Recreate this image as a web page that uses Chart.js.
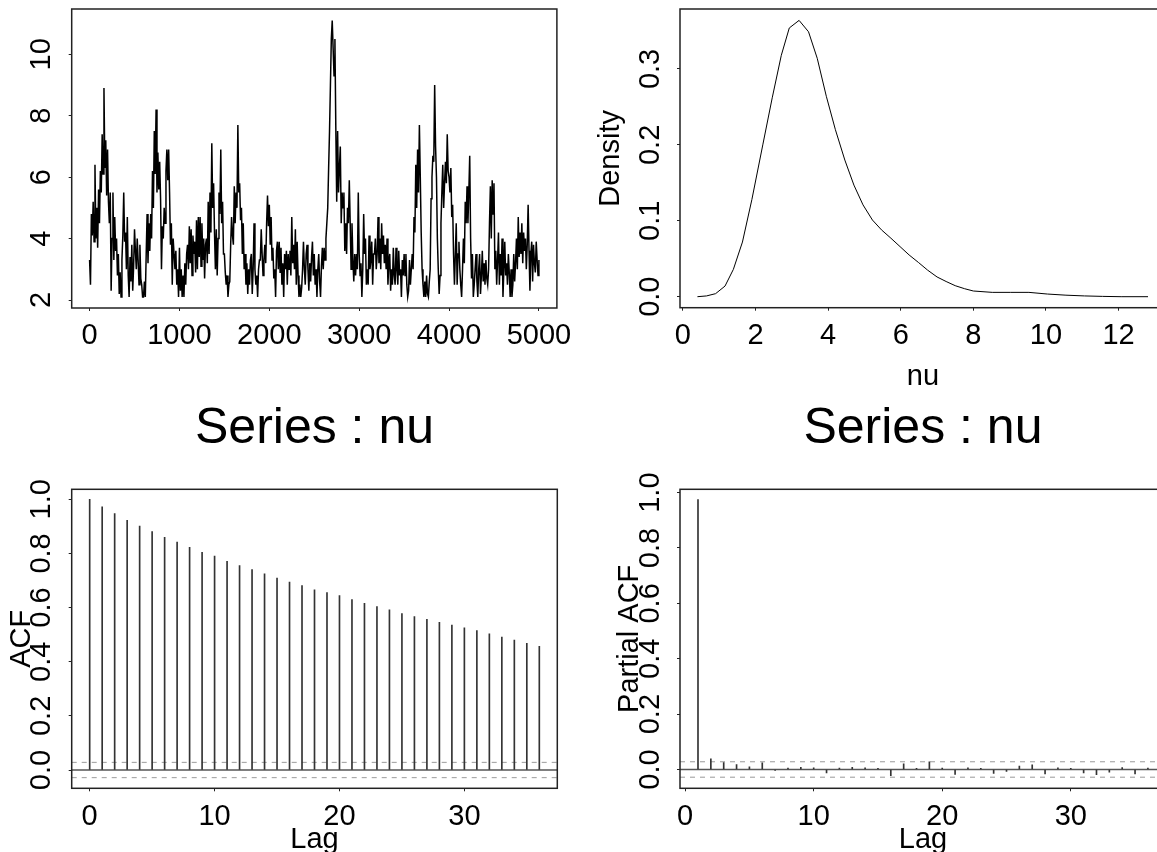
<!DOCTYPE html>
<html>
<head>
<meta charset="utf-8">
<title>nu diagnostics</title>
<script src="https://cdn.jsdelivr.net/npm/chart.js@4.4.1/dist/chart.umd.min.js"></script>
<style>
  html, body { margin: 0; padding: 0; background: #fff; overflow: hidden; }
  body { width: 1157px; height: 852px; position: relative; }
  canvas { position: absolute; }
</style>
</head>
<body>
<canvas id="trace" width="580" height="400" style="left:0;top:0"></canvas>
<canvas id="density" width="620" height="400" style="left:580px;top:0"></canvas>
<canvas id="acf" width="580" height="452" style="left:0;top:400px"></canvas>
<canvas id="pacf" width="620" height="452" style="left:580px;top:400px"></canvas>
<script>
// MCMC trace of nu, one value read every 10 iterations (one row = 100 iterations)
const traceStep = 10;
const nuTrace = [
    3.3, 2.5, 4.8, 4.1, 5.2, 3.9, 6.4, 4.0, 5.0, 3.7,
    5.6, 4.5, 6.2, 5.5, 7.4, 6.1, 8.9, 6.3, 7.2, 5.4,
    6.9, 5.2, 4.5, 5.5, 2.3, 4.0, 5.5, 3.3, 4.7, 3.6,
    4.0, 2.8, 3.5, 2.2, 2.9, 2.1, 3.3, 4.1, 5.5, 3.9,
    4.2, 3.0, 4.7, 2.8, 2.1, 3.4, 2.6, 3.8, 2.3, 3.1,
    4.3, 3.6, 3.0, 4.0, 3.3, 2.5, 3.8, 2.7, 2.5, 2.1,
    2.1, 2.6, 2.1, 3.5, 4.8, 3.2, 4.5, 3.6, 4.8, 4.0,
    6.2, 5.0, 7.5, 6.1, 8.2, 5.5, 6.8, 5.6, 6.5, 5.3,
    3.0, 4.4, 4.0, 5.0, 4.5, 6.2, 6.9, 5.9, 6.9, 5.5,
    3.8, 4.5, 2.5, 4.0, 3.5, 3.0, 3.6, 2.5, 3.0, 2.1,
    3.7, 2.3, 3.0, 2.1, 2.8, 2.1, 3.2, 2.5, 3.5, 3.8,
    3.0, 4.4, 3.2, 4.3, 2.8, 4.1, 3.5, 3.9, 2.9, 4.6,
    3.0, 4.7, 3.4, 4.7, 3.1, 4.5, 3.3, 4.0, 2.7, 3.8,
    4.0, 3.2, 5.2, 3.5, 5.5, 4.2, 7.1, 5.0, 5.8, 4.2,
    3.0, 4.3, 2.8, 4.0, 5.5, 4.8, 6.9, 4.5, 5.2, 3.5,
    3.5, 2.9, 2.5, 2.8, 2.1, 2.5, 2.6, 3.8, 4.7, 4.1,
    3.8, 5.7, 4.5, 5.5, 5.0, 7.7, 5.5, 5.8, 4.6, 5.0,
    3.5, 4.5, 3.0, 3.5, 2.5, 3.2, 2.2, 3.0, 2.5, 3.3,
    3.5, 2.2, 3.0, 4.5, 3.0, 2.5, 2.8, 2.1, 3.0, 3.3,
    3.3, 4.3, 3.5, 2.8, 3.3, 3.8, 3.2, 4.5, 5.4, 4.4,
    5.1, 3.8, 4.7, 3.3, 3.7, 2.7, 3.0, 2.1, 3.6, 3.9,
    3.0, 3.9, 2.9, 3.7, 2.5, 3.2, 2.1, 3.5, 3.0, 3.6,
    2.5, 3.5, 3.0, 3.6, 2.8, 4.7, 3.2, 3.8, 3.0, 4.3,
    2.5, 3.9, 2.8, 2.1, 2.5, 2.1, 2.4, 3.0, 3.9, 3.0,
    2.5, 3.5, 3.8, 3.0, 2.3, 3.2, 2.6, 3.4, 3.9, 2.8,
    3.5, 2.5, 3.0, 2.1, 3.0, 3.5, 2.6, 2.1, 3.1, 3.7,
    3.0, 3.7, 3.3, 4.0, 4.5, 5.0, 6.3, 7.5, 9.0, 10.5,
    11.1, 10.2, 9.3, 10.5, 7.6, 5.2, 7.5, 5.5, 6.3, 7.0,
    4.5, 5.5, 5.0, 5.5, 3.6, 4.5, 3.5, 5.0, 4.5, 5.9,
    4.5, 3.0, 4.5, 3.3, 2.6, 3.5, 2.8, 3.5, 3.0, 5.5,
    3.5, 2.8, 3.2, 2.1, 3.0, 4.8, 3.5, 4.0, 2.5, 3.0,
    2.5, 4.1, 3.0, 3.3, 3.9, 2.5, 3.5, 3.5, 4.0, 3.0,
    3.5, 4.7, 3.2, 4.0, 3.0, 4.5, 3.5, 4.1, 3.2, 3.8,
    3.0, 4.0, 2.5, 3.2, 3.5, 2.3, 3.0, 2.5, 3.7, 2.8,
    2.5, 3.7, 3.0, 2.5, 3.6, 2.8, 3.0, 2.1, 3.3, 2.8,
    3.5, 2.8, 3.5, 2.5, 2.1, 2.3, 3.3, 2.5, 3.0, 3.5,
    3.0, 4.7, 4.2, 6.4, 5.0, 6.9, 5.5, 7.7, 6.0, 4.2,
    3.0, 2.5, 2.1, 2.6, 2.1, 2.8, 2.2, 2.1, 2.6, 3.0,
    5.3, 6.0, 6.7, 6.5, 9.0, 7.0, 6.0, 4.0, 3.0, 2.2,
    2.8, 4.5, 5.5, 6.4, 5.0, 5.8, 6.5, 5.8, 7.4, 6.2,
    6.0, 5.5, 6.3, 4.7, 5.1, 3.5, 2.5, 3.5, 4.5, 2.5,
    3.5, 3.9, 3.0, 2.5, 2.1, 3.0, 4.0, 3.2, 5.2, 4.5,
    5.7, 4.5, 5.5, 6.7, 4.0, 2.7, 3.5, 2.1, 2.5, 3.0,
    3.5, 2.6, 2.1, 3.0, 3.5, 2.2, 2.8, 3.6, 2.6, 3.2,
    2.5, 3.3, 2.7, 2.5, 3.0, 4.5, 5.7, 4.0, 5.9, 4.8,
    5.8, 3.0, 3.6, 2.5, 3.3, 4.2, 2.5, 3.5, 2.8, 4.0,
    2.1, 3.0, 3.9, 2.8, 3.2, 2.5, 3.5, 2.9, 2.1, 3.0,
    2.1, 2.5, 3.5, 2.6, 3.2, 4.0, 3.0, 4.7, 3.4, 4.2,
    3.5, 4.5, 3.2, 4.2, 3.6, 4.0, 3.0, 3.8, 5.1, 3.6,
    2.3, 3.5, 3.9, 2.6, 3.8, 3.2, 2.9, 3.9, 3.3, 2.8,
    3.3
];
const traceXTicks = [0, 1000, 2000, 3000, 4000, 5000];
const traceYTicks = [2, 4, 6, 8, 10];

// kernel density of nu
const densityX = [0.40, 0.65, 0.90, 1.16, 1.39, 1.64, 1.90, 2.20, 2.46, 2.71, 2.93, 3.20, 3.46, 3.70,
    3.95, 4.20, 4.46, 4.71, 4.96, 5.22, 5.47, 5.73, 5.98, 6.23, 6.49, 6.74, 7.00, 7.25, 7.50, 7.76,
    8.00, 8.52, 9.03, 9.53, 10.04, 10.55, 11.06, 11.56, 12.07, 12.81];
const densityY = [0.000, 0.001, 0.004, 0.014, 0.036, 0.072, 0.128, 0.200, 0.262, 0.318, 0.354, 0.364, 0.349, 0.314,
    0.264, 0.220, 0.180, 0.147, 0.121, 0.101, 0.088, 0.077, 0.066, 0.055, 0.045, 0.035, 0.026, 0.020, 0.0145, 0.0105,
    0.0075, 0.0057, 0.0057, 0.0057, 0.0035, 0.002, 0.001, 0.0004, 0.0, 0.0];
const densityXTicks = [0, 2, 4, 6, 8, 10, 12];
const densityYTicks = [0, 0.1, 0.2, 0.3];
const densityYLabels = ['0.0', '0.1', '0.2', '0.3'];

// autocorrelations
const acfLags = [0, 1, 2, 3, 4, 5, 6, 7, 8, 9, 10, 11, 12, 13, 14, 15, 16, 17, 18,
    19, 20, 21, 22, 23, 24, 25, 26, 27, 28, 29, 30, 31, 32, 33, 34, 35, 36];
const acfValues = [1.000, 0.972, 0.947, 0.922, 0.901, 0.881, 0.860, 0.842, 0.823, 0.804, 0.790, 0.771, 0.755,
    0.740, 0.725, 0.709, 0.694, 0.681, 0.666, 0.655, 0.644, 0.630, 0.616, 0.604, 0.592, 0.578, 0.567,
    0.557, 0.546, 0.535, 0.525, 0.515, 0.503, 0.491, 0.480, 0.468, 0.457];
const pacfLags = acfLags.slice(1);
const pacfValues = [0.975, 0.038, 0.025, 0.018, 0.010, 0.024, -0.003, 0.005, 0.008, 0.006, -0.012, 0.005,
    0.008, 0.006, 0.004, -0.022, 0.020, 0.004, 0.028, 0.005, -0.018, 0.006, 0.004, -0.014, -0.007,
    0.012, 0.017, -0.016, 0.006, 0.004, -0.012, -0.019, -0.010, 0.007, -0.016, 0.005];
const confLimit = 0.028;
const lagTicks = [0, 10, 20, 30];
const corrYTicks = [0, 0.2, 0.4, 0.6, 0.8, 1.0];
const corrYLabels = ['0.0', '0.2', '0.4', '0.6', '0.8', '1.0'];

const FONT = '"Liberation Sans", Arial, Helvetica, sans-serif';

// box, rotated y tick labels and titles in the S-plus style
const rDeco = {
    id: 'rDeco',
    afterDraw(chart, args, opts) {
        const ctx = chart.ctx;
        const a = chart.chartArea;
        const ys = chart.scales.y;
        ctx.save();
        ctx.strokeStyle = '#222';
        ctx.lineWidth = 1.5;
        ctx.strokeRect(a.left, a.top, a.right - a.left, a.bottom - a.top);

        ctx.fillStyle = '#000';
        ctx.font = '29px ' + FONT;
        ctx.textAlign = 'center';
        ctx.textBaseline = 'middle';
        ys.ticks.forEach((t, i) => {
            ctx.save();
            ctx.translate(a.left - 29.5, ys.getPixelForValue(t.value));
            ctx.rotate(-Math.PI / 2);
            ctx.fillText(opts.yLabels[i], 0, 0);
            ctx.restore();
        });

        ctx.font = '29px ' + FONT;
        if (opts.yTitle) {
            ctx.save();
            ctx.translate(opts.yTitleX, (a.top + a.bottom) / 2);
            ctx.rotate(-Math.PI / 2);
            ctx.fillText(opts.yTitle, 0, 0);
            ctx.restore();
        }
        ctx.textBaseline = 'alphabetic';
        if (opts.xTitle) {
            ctx.fillText(opts.xTitle, (a.left + a.right) / 2, opts.xTitleY);
        }
        if (opts.main) {
            ctx.font = '50px ' + FONT;
            ctx.fillText(opts.main, (a.left + a.right) / 2, opts.mainY);
        }
        ctx.restore();
    }
};

function xScale(min, max, ticks, height) {
    return {
        type: 'linear', min: min, max: max, offset: false,
        afterBuildTicks: s => { s.ticks = ticks.map(v => ({ value: v })); },
        afterFit: s => { s.height = height; },
        grid: { drawOnChartArea: false, drawTicks: true, tickLength: 3, color: '#222', offset: false },
        border: { display: false },
        ticks: {
            autoSkip: false, maxRotation: 0, padding: 8, color: '#000',
            font: { family: FONT, size: 29 },
            callback: v => String(v)
        }
    };
}

function yScale(min, max, ticks, width) {
    return {
        type: 'linear', min: min, max: max,
        afterBuildTicks: s => { s.ticks = ticks.map(v => ({ value: v })); },
        afterFit: s => { s.width = width; },
        grid: { drawOnChartArea: false, drawTicks: true, tickLength: 3, color: '#222' },
        border: { display: false },
        ticks: { display: false }
    };
}

function baseOptions(padding, scales, deco) {
    return {
        responsive: false,
        animation: false,
        events: [],
        layout: { padding: padding },
        scales: scales,
        plugins: { legend: { display: false }, tooltip: { enabled: false }, rDeco: deco }
    };
}

function refLines(xMin, xMax) {
    const flat = (y, color, dash, width) => ({
        type: 'line',
        data: [{ x: xMin, y: y }, { x: xMax, y: y }],
        borderColor: color, borderDash: dash, borderWidth: width,
        pointRadius: 0, fill: false
    });
    return [
        flat(0, '#555', [], 1.5),
        flat(confLimit, '#aaa', [5, 5], 1.2),
        flat(-confLimit, '#aaa', [5, 5], 1.2)
    ];
}

// top left: trace
new Chart(document.getElementById('trace'), {
    type: 'line',
    data: {
        datasets: [{
            data: nuTrace.map((v, i) => ({ x: i * traceStep, y: v })),
            borderColor: '#000', borderWidth: 1.5, pointRadius: 0, tension: 0
        }]
    },
    options: baseOptions({ top: 9, right: 22.3, left: 0, bottom: 0 }, {
        x: xScale(-199, 5200, traceXTicks, 92),
        y: yScale(1.74, 11.475, traceYTicks, 71.7)
    }, { yLabels: traceYTicks.map(String) }),
    plugins: [rDeco]
});

// top right: density
new Chart(document.getElementById('density'), {
    type: 'line',
    data: {
        datasets: [{
            data: densityX.map((x, i) => ({ x: x, y: densityY[i] })),
            borderColor: '#000', borderWidth: 1, pointRadius: 0, tension: 0
        }]
    },
    options: baseOptions({ top: 9, right: 34.2, left: 0, bottom: 0 }, {
        x: xScale(-0.08, 13.3, densityXTicks, 92.3),
        y: yScale(-0.0145, 0.379, densityYTicks, 100)
    }, { yLabels: densityYLabels, yTitle: 'Density', yTitleX: 31, xTitle: 'nu', xTitleY: 385 }),
    plugins: [rDeco]
});

// bottom left: ACF
new Chart(document.getElementById('acf'), {
    type: 'bar',
    data: {
        datasets: [{
            data: acfLags.map((l, i) => ({ x: l, y: acfValues[i] })),
            backgroundColor: '#333', barThickness: 1
        }].concat(refLines(-1.44, 37.44))
    },
    options: baseOptions({ top: 89.3, right: 22.7, left: 0, bottom: 0 }, {
        x: xScale(-1.44, 37.44, lagTicks, 63.7),
        y: yScale(-0.0676, 1.037, corrYTicks, 71.7)
    }, { yLabels: corrYLabels, yTitle: 'ACF', yTitleX: 22, xTitle: 'Lag', xTitleY: 448, main: 'Series : nu', mainY: 43 }),
    plugins: [rDeco]
});

// bottom right: partial ACF
new Chart(document.getElementById('pacf'), {
    type: 'bar',
    data: {
        datasets: [{
            data: pacfLags.map((l, i) => ({ x: l, y: pacfValues[i] })),
            backgroundColor: '#333', barThickness: 1
        }].concat(refLines(-0.4, 37.4))
    },
    options: baseOptions({ top: 89.3, right: 34.1, left: 0, bottom: 0 }, {
        x: xScale(-0.4, 37.4, lagTicks, 63.7),
        y: yScale(-0.068, 1.012, corrYTicks, 100)
    }, { yLabels: corrYLabels, yTitle: 'Partial ACF', yTitleX: 50, xTitle: 'Lag', xTitleY: 448, main: 'Series : nu', mainY: 43 }),
    plugins: [rDeco]
});
</script>
</body>
</html>
